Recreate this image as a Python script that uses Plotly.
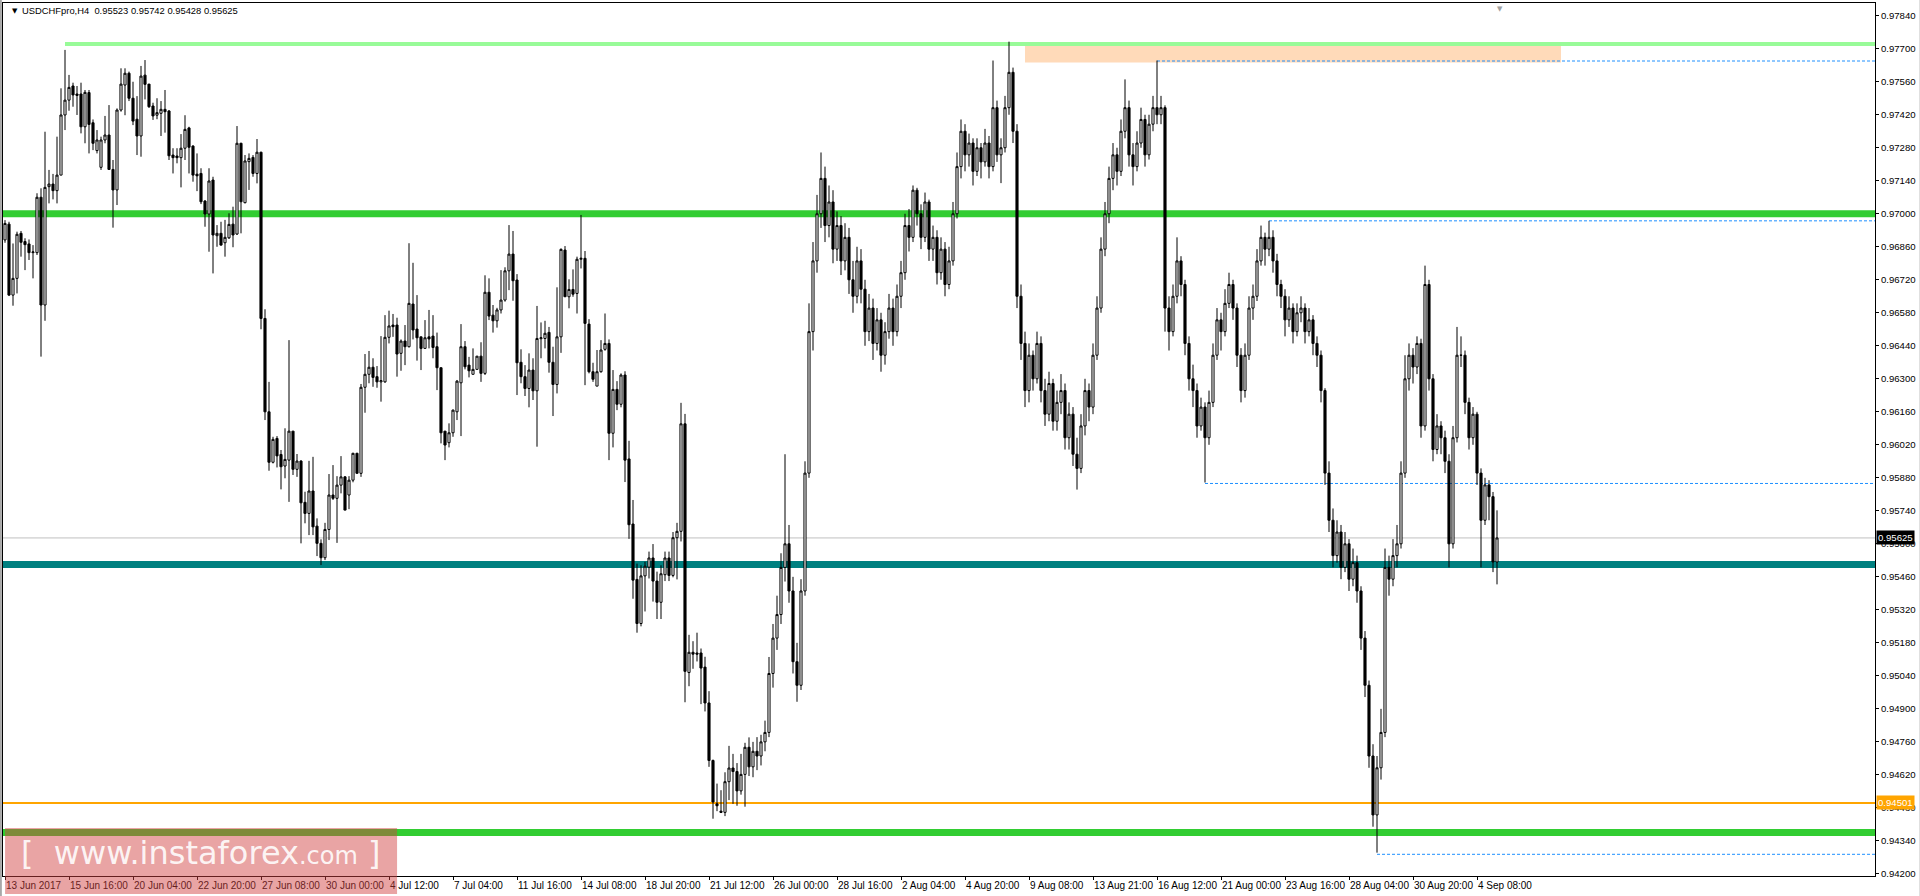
import plotly.graph_objects as go

# ---------------- data (USDCHF H4 candles) ----------------
opens = [0.96889,0.96956,0.96655,0.96726,0.96917,0.96882,0.96872,0.96835,0.96835,0.97070,
0.96613,0.97115,0.97126,0.97098,0.97164,0.97419,0.97482,0.97542,0.97508,0.97508,
0.97369,0.97514,0.97386,0.97268,0.97197,0.97313,0.97334,0.97188,0.97101,0.97440,
0.97546,0.97596,0.97490,0.97401,0.97330,0.97588,0.97550,0.97457,0.97418,0.97426,
0.97443,0.97436,0.97249,0.97245,0.97238,0.97278,0.97364,0.97287,0.97168,0.97171,
0.97054,0.96999,0.97143,0.96907,0.96917,0.96877,0.96898,0.96956,0.96914,0.97299,
0.97047,0.97221,0.97239,0.97171,0.97261,0.96556,0.96160,0.95946,0.96047,0.95979,
0.95930,0.95955,0.96078,0.95916,0.95951,0.95776,0.95729,0.95824,0.95675,0.95602,
0.95541,0.95661,0.95807,0.95793,0.95849,0.95884,0.95807,0.95870,0.95984,0.95899,
0.96264,0.96319,0.96349,0.96309,0.96287,0.96287,0.96476,0.96528,0.96528,0.96408,
0.96460,0.96436,0.96617,0.96511,0.96478,0.96429,0.96478,0.96481,0.96436,0.96347,
0.96078,0.96029,0.96071,0.96160,0.96283,0.96436,0.96358,0.96319,0.96340,0.96396,
0.96323,0.96667,0.96570,0.96546,0.96592,0.96634,0.96758,0.96829,0.96719,0.96370,
0.96309,0.96259,0.96337,0.96249,0.96470,0.96471,0.96497,0.96370,0.96276,0.96478,
0.96846,0.96648,0.96679,0.96662,0.96807,0.96811,0.96532,0.96330,0.96269,0.96330,
0.96425,0.96450,0.96069,0.96255,0.96192,0.96316,0.95960,0.95684,0.95449,0.95262,
0.95464,0.95501,0.95540,0.95442,0.95352,0.95469,0.95540,0.95466,0.95626,0.95653,
0.96109,0.95054,0.95140,0.95137,0.95137,0.95077,0.94925,0.94681,0.94497,0.94466,
0.94461,0.94591,0.94649,0.94634,0.94552,0.94622,0.94737,
0.94654,0.94720,0.94700,0.94760,0.94800,0.95050,0.95200,0.95300,0.95500,0.95600,
0.95400,0.95100,0.95000,0.95400,0.95900,0.96500,0.96800,0.97000,0.97150,0.96950,
0.97050,0.96850,0.96950,0.96800,0.96900,0.96720,0.96650,0.96800,0.96680,0.96500,
0.96600,0.96450,0.96550,0.96400,0.96500,0.96600,0.96500,0.96650,0.96750,0.96950,
0.96900,0.97100,0.97000,0.96900,0.97050,0.96850,0.96900,0.96750,0.96850,0.96700,
0.96800,0.97000,0.97200,0.97350,0.97250,0.97300,0.97180,0.97280,0.97220,0.97300,
0.97200,0.97450,0.97250,0.97280,0.97450,0.97600,0.97350,0.96650,0.96450,0.96250,
0.96400,0.96300,0.96450,0.96250,0.96150,0.96280,0.96120,0.96200,0.96250,0.96050,
0.96150,0.95980,0.95920,0.96100,0.96250,0.96180,0.96400,0.96600,0.96850,0.97000,
0.97150,0.97250,0.97180,0.97350,0.97450,0.97250,0.97200,0.97300,0.97400,0.97250,
0.97380,0.97450,0.97420,0.97450,0.96600,0.96500,0.96650,0.96800,0.96700,0.96450,
0.96300,0.96250,0.96100,0.96180,0.96050,0.96200,0.96400,0.96550,0.96500,0.96620,
0.96700,0.96600,0.96400,0.96250,0.96400,0.96600,0.96650,0.96800,0.96900,0.96850,
0.96900,0.96800,0.96700,0.96650,0.96550,0.96600,0.96500,0.96580,0.96600,0.96500,
0.96550,0.96450,0.96400,0.96250,0.95900,0.95700,0.95550,0.95650,0.95500,0.95600,
0.95450,0.95520,0.95400,0.95200,0.95000,0.94700,0.94450,0.94650,0.94800,0.95500,
0.95450,0.95550,0.95600,0.95900,0.96300,0.96400,0.96350,0.96450,0.96100,0.96700,
0.96300,0.96000,0.96100,0.96050,0.95950,0.95600,0.96050,0.96400,0.96400,0.96200,
0.96050,0.96150,0.95900,0.95700,0.95850,0.95800,0.95523]
highs = [0.96973,0.96966,0.96874,0.96924,0.96927,0.96896,0.96891,0.96867,0.97087,0.97108,
0.97348,0.97186,0.97169,0.97327,0.97532,0.97695,0.97589,0.97556,0.97542,0.97556,
0.97525,0.97525,0.97400,0.97355,0.97327,0.97415,0.97461,0.97228,0.97447,0.97617,
0.97617,0.97603,0.97560,0.97499,0.97627,0.97652,0.97550,0.97471,0.97490,0.97478,
0.97525,0.97440,0.97278,0.97278,0.97338,0.97418,0.97369,0.97291,0.97256,0.97193,
0.97058,0.97193,0.97157,0.96952,0.96966,0.96974,0.97002,0.97030,0.97372,0.97301,
0.97249,0.97256,0.97249,0.97317,0.97263,0.96595,0.96287,0.96054,0.96057,0.95998,
0.96090,0.96464,0.96078,0.95981,0.95955,0.95821,0.95952,0.95969,0.95708,0.95619,
0.95689,0.95896,0.95934,0.95887,0.95972,0.95887,0.95887,0.95986,0.95986,0.96278,
0.96405,0.96418,0.96387,0.96354,0.96481,0.96570,0.96589,0.96575,0.96559,0.96467,
0.96528,0.96875,0.96792,0.96655,0.96478,0.96549,0.96592,0.96570,0.96496,0.96347,
0.96075,0.96111,0.96170,0.96295,0.96532,0.96460,0.96393,0.96429,0.96396,0.96455,
0.96739,0.96726,0.96613,0.96601,0.96761,0.96773,0.96952,0.96927,0.96744,0.96425,
0.96358,0.96408,0.96387,0.96609,0.96539,0.96546,0.96520,0.96436,0.96688,0.96853,
0.96863,0.96722,0.96764,0.96818,0.96995,0.96842,0.96553,0.96368,0.96422,0.96464,
0.96577,0.96467,0.96337,0.96290,0.96323,0.96332,0.96037,0.95786,0.95516,0.95509,
0.95524,0.95567,0.95599,0.95482,0.95509,0.95567,0.95567,0.95650,0.95689,0.96198,
0.96151,0.95214,0.95187,0.95223,0.95156,0.95121,0.94975,0.94685,0.94583,0.94555,
0.94631,0.94743,0.94709,0.94670,0.94709,0.94756,0.94779,
0.94760,0.94780,0.94790,0.94850,0.95120,0.95260,0.95380,0.95560,0.95980,0.95680,
0.95460,0.95180,0.95450,0.95950,0.96620,0.96880,0.97080,0.97260,0.97200,0.97120,
0.97100,0.97010,0.96990,0.96960,0.96940,0.96800,0.96860,0.96850,0.96720,0.96660,
0.96640,0.96600,0.96580,0.96540,0.96660,0.96640,0.96700,0.96800,0.97000,0.97020,
0.97120,0.97110,0.97040,0.97090,0.97060,0.96950,0.96930,0.96900,0.96880,0.96860,
0.97050,0.97260,0.97400,0.97380,0.97340,0.97320,0.97320,0.97300,0.97360,0.97330,
0.97650,0.97480,0.97320,0.97500,0.97730,0.97620,0.97380,0.96700,0.96500,0.96450,
0.96420,0.96500,0.96480,0.96300,0.96330,0.96300,0.96250,0.96320,0.96280,0.96200,
0.96180,0.96050,0.96150,0.96300,0.96280,0.96450,0.96650,0.96900,0.97050,0.97200,
0.97300,0.97280,0.97400,0.97570,0.97480,0.97300,0.97350,0.97450,0.97420,0.97420,
0.97500,0.97650,0.97500,0.97460,0.96650,0.96700,0.96900,0.96820,0.96720,0.96480,
0.96360,0.96280,0.96220,0.96200,0.96250,0.96450,0.96600,0.96580,0.96680,0.96750,
0.96720,0.96620,0.96430,0.96450,0.96650,0.96700,0.96850,0.96950,0.96920,0.96970,
0.96930,0.96830,0.96720,0.96680,0.96650,0.96620,0.96620,0.96650,0.96620,0.96600,
0.96570,0.96480,0.96420,0.96260,0.95950,0.95750,0.95700,0.95680,0.95650,0.95620,
0.95580,0.95550,0.95420,0.95230,0.95020,0.94750,0.94700,0.94900,0.95580,0.95550,
0.95620,0.95680,0.95950,0.96400,0.96450,0.96430,0.96480,0.96470,0.96780,0.96720,
0.96320,0.96150,0.96120,0.96080,0.95980,0.96100,0.96520,0.96480,0.96420,0.96220,
0.96180,0.96160,0.95920,0.95880,0.95870,0.95820,0.95742]
lows = [0.96877,0.96651,0.96610,0.96662,0.96818,0.96761,0.96804,0.96726,0.96825,0.96394,
0.96546,0.97044,0.97061,0.97044,0.97164,0.97355,0.97437,0.97454,0.97419,0.97341,
0.97299,0.97256,0.97270,0.97256,0.97186,0.97299,0.97186,0.96941,0.97037,0.97433,
0.97418,0.97478,0.97376,0.97249,0.97242,0.97485,0.97449,0.97398,0.97401,0.97330,
0.97344,0.97228,0.97171,0.97214,0.97112,0.97228,0.97171,0.97136,0.97096,0.97041,
0.96945,0.96839,0.96747,0.96860,0.96865,0.96818,0.96893,0.96858,0.96910,0.96917,
0.97044,0.97101,0.97157,0.97129,0.96510,0.96125,0.95910,0.95941,0.95924,0.95831,
0.95878,0.95778,0.95892,0.95884,0.95602,0.95687,0.95637,0.95637,0.95548,0.95510,
0.95531,0.95616,0.95786,0.95604,0.95814,0.95743,0.95747,0.95861,0.95899,0.95884,
0.96156,0.96281,0.96266,0.96262,0.96203,0.96283,0.96450,0.96478,0.96309,0.96334,
0.96358,0.96433,0.96467,0.96377,0.96337,0.96429,0.96429,0.96387,0.96252,0.96026,
0.95955,0.96009,0.96054,0.96125,0.96057,0.96340,0.96306,0.96319,0.96340,0.96287,
0.96316,0.96549,0.96496,0.96517,0.96577,0.96627,0.96676,0.96631,0.96231,0.96281,
0.96227,0.96179,0.96210,0.96012,0.96387,0.96429,0.96326,0.96142,0.96238,0.96410,
0.96648,0.96599,0.96648,0.96577,0.96768,0.96273,0.96323,0.96287,0.96269,0.96326,
0.96419,0.95955,0.96009,0.96167,0.96179,0.95862,0.95621,0.95367,0.95223,0.95250,
0.95313,0.95453,0.95355,0.95281,0.95281,0.95442,0.95442,0.95458,0.95449,0.95610,
0.94928,0.94996,0.95070,0.95101,0.94920,0.94889,0.94654,0.94434,0.94466,0.94458,
0.94445,0.94513,0.94497,0.94489,0.94536,0.94485,0.94615,
0.94610,0.94640,0.94660,0.94720,0.94780,0.94990,0.95150,0.95260,0.95440,0.95350,
0.95050,0.94930,0.94980,0.95380,0.95880,0.96420,0.96750,0.96940,0.96880,0.96900,
0.96790,0.96800,0.96740,0.96760,0.96660,0.96580,0.96620,0.96620,0.96440,0.96460,
0.96380,0.96420,0.96330,0.96360,0.96470,0.96440,0.96480,0.96600,0.96720,0.96840,
0.96880,0.96950,0.96850,0.96880,0.96800,0.96800,0.96700,0.96720,0.96650,0.96680,
0.96780,0.96980,0.97150,0.97180,0.97200,0.97120,0.97160,0.97150,0.97200,0.97150,
0.97180,0.97220,0.97130,0.97260,0.97420,0.97300,0.96600,0.96380,0.96180,0.96200,
0.96250,0.96280,0.96200,0.96100,0.96120,0.96080,0.96080,0.96150,0.96000,0.96000,
0.95930,0.95830,0.95900,0.96060,0.96120,0.96150,0.96380,0.96580,0.96820,0.96960,
0.97100,0.97120,0.97160,0.97320,0.97200,0.97120,0.97180,0.97280,0.97200,0.97230,
0.97350,0.97380,0.97380,0.96500,0.96420,0.96480,0.96620,0.96650,0.96400,0.96250,
0.96180,0.96050,0.96080,0.95860,0.96020,0.96180,0.96380,0.96420,0.96480,0.96600,
0.96550,0.96350,0.96200,0.96220,0.96380,0.96550,0.96630,0.96780,0.96780,0.96820,
0.96750,0.96650,0.96600,0.96480,0.96520,0.96450,0.96480,0.96540,0.96450,0.96480,
0.96400,0.96350,0.96200,0.95850,0.95650,0.95500,0.95520,0.95450,0.95480,0.95400,
0.95420,0.95350,0.95150,0.94950,0.94650,0.94400,0.94290,0.94600,0.94780,0.95380,
0.95420,0.95500,0.95580,0.95880,0.96250,0.96280,0.96320,0.96050,0.96080,0.96250,
0.95950,0.95980,0.95980,0.95900,0.95500,0.95580,0.96030,0.96350,0.96150,0.96000,
0.96020,0.95850,0.95500,0.95680,0.95700,0.95480,0.95428]
closes = [0.96959,0.96655,0.96726,0.96913,0.96879,0.96869,0.96835,0.96838,0.97070,0.96613,
0.97112,0.97126,0.97098,0.97164,0.97419,0.97482,0.97536,0.97504,0.97502,0.97369,
0.97515,0.97379,0.97299,0.97313,0.97313,0.97334,0.97188,0.97101,0.97440,0.97550,
0.97596,0.97490,0.97393,0.97330,0.97584,0.97549,0.97454,0.97415,0.97429,0.97443,
0.97433,0.97246,0.97238,0.97238,0.97278,0.97358,0.97282,0.97164,0.97161,0.97051,
0.96999,0.97139,0.96910,0.96917,0.96867,0.96900,0.96955,0.96910,0.97299,0.97051,
0.97224,0.97235,0.97171,0.97261,0.96556,0.96160,0.95946,0.96043,0.95973,0.95927,
0.95958,0.96078,0.95916,0.95951,0.95774,0.95729,0.95824,0.95672,0.95602,0.95541,
0.95661,0.95807,0.95793,0.95849,0.95884,0.95743,0.95870,0.95984,0.95899,0.96264,
0.96319,0.96349,0.96306,0.96287,0.96292,0.96476,0.96524,0.96521,0.96405,0.96460,
0.96436,0.96620,0.96507,0.96474,0.96429,0.96474,0.96469,0.96433,0.96347,0.96071,
0.96019,0.96071,0.96167,0.96290,0.96436,0.96351,0.96334,0.96340,0.96396,0.96323,
0.96667,0.96566,0.96546,0.96592,0.96634,0.96758,0.96829,0.96716,0.96368,0.96309,
0.96259,0.96337,0.96249,0.96471,0.96474,0.96493,0.96370,0.96276,0.96478,0.96849,
0.96648,0.96679,0.96659,0.96807,0.96811,0.96535,0.96330,0.96298,0.96330,0.96422,
0.96450,0.96069,0.96255,0.96192,0.96316,0.95955,0.95681,0.95446,0.95262,0.95464,
0.95505,0.95540,0.95442,0.95352,0.95473,0.95540,0.95466,0.95626,0.95653,0.96109,
0.95059,0.95140,0.95132,0.95132,0.95073,0.94925,0.94681,0.94505,0.94489,0.94461,
0.94591,0.94649,0.94634,0.94552,0.94622,0.94737,0.94654,
0.94720,0.94700,0.94760,0.94800,0.95050,0.95200,0.95300,0.95500,0.95600,0.95400,
0.95100,0.95000,0.95400,0.95900,0.96500,0.96800,0.97000,0.97150,0.96950,0.97050,
0.96850,0.96950,0.96800,0.96900,0.96720,0.96650,0.96800,0.96680,0.96500,0.96600,
0.96450,0.96550,0.96400,0.96500,0.96600,0.96500,0.96650,0.96750,0.96950,0.96900,
0.97100,0.97000,0.96900,0.97050,0.96850,0.96900,0.96750,0.96850,0.96700,0.96800,
0.97000,0.97200,0.97350,0.97250,0.97300,0.97180,0.97280,0.97220,0.97300,0.97200,
0.97450,0.97250,0.97280,0.97450,0.97600,0.97350,0.96650,0.96450,0.96250,0.96400,
0.96300,0.96450,0.96250,0.96150,0.96280,0.96120,0.96200,0.96250,0.96050,0.96150,
0.95980,0.95920,0.96100,0.96250,0.96180,0.96400,0.96600,0.96850,0.97000,0.97150,
0.97250,0.97180,0.97350,0.97450,0.97250,0.97200,0.97300,0.97400,0.97250,0.97380,
0.97450,0.97420,0.97450,0.96600,0.96500,0.96650,0.96800,0.96700,0.96450,0.96300,
0.96250,0.96100,0.96180,0.96050,0.96200,0.96400,0.96550,0.96500,0.96620,0.96700,
0.96600,0.96400,0.96250,0.96400,0.96600,0.96650,0.96800,0.96900,0.96850,0.96900,
0.96800,0.96700,0.96650,0.96550,0.96600,0.96500,0.96580,0.96600,0.96500,0.96550,
0.96450,0.96400,0.96250,0.95900,0.95700,0.95550,0.95650,0.95500,0.95600,0.95450,
0.95520,0.95400,0.95200,0.95000,0.94700,0.94450,0.94650,0.94800,0.95500,0.95450,
0.95550,0.95600,0.95900,0.96300,0.96400,0.96350,0.96450,0.96100,0.96700,0.96300,
0.96000,0.96100,0.96050,0.95950,0.95600,0.96050,0.96400,0.96400,0.96200,0.96050,
0.96150,0.95900,0.95700,0.95850,0.95800,0.95523,0.95625]

x_labels = ["13 Jun 2017","15 Jun 16:00","20 Jun 04:00","22 Jun 20:00","27 Jun 08:00",
            "30 Jun 00:00","4 Jul 12:00","7 Jul 04:00","11 Jul 16:00","14 Jul 08:00",
            "18 Jul 20:00","21 Jul 12:00","26 Jul 00:00","28 Jul 16:00","2 Aug 04:00",
            "4 Aug 20:00","9 Aug 08:00","13 Aug 21:00","16 Aug 12:00","21 Aug 00:00",
            "23 Aug 16:00","28 Aug 04:00","30 Aug 20:00","4 Sep 08:00"]
bars_per_label = 16
y_ticks = [0.94200,0.94340,0.94480,0.94620,0.94760,0.94900,0.95040,0.95180,0.95320,
           0.95460,0.95600,0.95740,0.95880,0.96020,0.96160,0.96300,0.96440,0.96580,
           0.96720,0.96860,0.97000,0.97140,0.97280,0.97420,0.97560,0.97700,0.97840]

title_text = "USDCHFpro,H4  0.95523 0.95742 0.95428 0.95625"
current_price = 0.95625
level_top = 0.97720        # light green line
level_top_start = 15
level_green_hi = 0.97000
level_teal = 0.95512
level_orange = 0.94501
level_green_lo = 0.94376
dashed_levels = [0.97648, 0.96970, 0.95856, 0.94283, 0.95501]
dashed_starts = [288, 316, 300, 343, 79]
zone_low, zone_high = 0.97642, 0.97720
zone_start, zone_end = 255, 389

x_min, x_max = -0.5, 467.5
y_min, y_max = 0.94191, 0.97894

# ---------------- figure ----------------
n = len(closes)
fig = go.Figure()
fig.add_trace(go.Candlestick(
    x=list(range(n)), open=opens, high=highs, low=lows, close=closes,
    increasing=dict(line=dict(color="black", width=1), fillcolor="white"),
    decreasing=dict(line=dict(color="black", width=1), fillcolor="black"),
    whiskerwidth=0, showlegend=False, hoverinfo="skip"))

def hline(y, x0, color, width, dash="solid", layer="below"):
    fig.add_shape(type="line", xref="x", yref="y", x0=x0, x1=x_max, y0=y, y1=y,
                  line=dict(color=color, width=width, dash=dash), layer=layer)

fig.add_shape(type="rect", xref="x", yref="y", x0=zone_start, x1=zone_end,
              y0=zone_low, y1=zone_high, fillcolor="#FFDAB9", line=dict(width=0), layer="below")
hline(level_top, level_top_start, "#98FB98", 4)
hline(level_green_hi, x_min, "#32CD32", 7)
hline(current_price, x_min, "#C0C0C0", 1)
for lv, st in zip(dashed_levels, dashed_starts):
    hline(lv, st, "#1E90FF", 1, dash="3px,2px")
hline(level_teal, x_min, "#008080", 7)
hline(level_orange, x_min, "#FFA500", 2)
hline(level_green_lo, x_min, "#32CD32", 7)

# window edges (gray frame strips)
fig.add_shape(type="rect", xref="paper", yref="paper", x0=-0.0016, x1=-0.0006, y0=-0.03, y1=1.01,
              fillcolor="#A8A8A8", line=dict(width=0), layer="above")
fig.add_shape(type="rect", xref="paper", yref="paper", x0=1.0235, x1=1.0260, y0=-0.03, y1=1.01,
              fillcolor="#E0E0E0", line=dict(width=0), layer="above")

# price labels on the axis
fig.add_annotation(xref="paper", yref="y", x=1.0006, y=current_price, xanchor="left",
                   yanchor="middle", text="0.95625", showarrow=False, bgcolor="black",
                   font=dict(family="Liberation Sans", size=9.6, color="white"), borderpad=1)
fig.add_annotation(xref="paper", yref="y", x=1.0006, y=level_orange, xanchor="left",
                   yanchor="middle", text="0.94501", showarrow=False, bgcolor="#FFA500",
                   font=dict(family="Liberation Sans", size=9.6, color="white"), borderpad=1)

# title
fig.add_annotation(xref="paper", yref="paper", x=0.0035, y=0.991, xanchor="left", yanchor="middle",
                   text="\u25BC", showarrow=False, font=dict(family="DejaVu Sans", size=7, color="black"))
fig.add_annotation(xref="paper", yref="paper", x=0.0093, y=0.991, xanchor="left", yanchor="middle",
                   text=title_text, showarrow=False,
                   font=dict(family="Liberation Sans", size=9.4, color="black"))
fig.add_annotation(xref="paper", yref="paper", x=0.7995, y=1.0, xanchor="center", yanchor="top",
                   text="\u25BC", showarrow=False, font=dict(family="DejaVu Sans", size=7, color="#A0A0A0"))

# watermark
fig.add_shape(type="rect", xref="paper", yref="paper", x0=0.0011, x1=0.2105, y0=-0.0206, y1=0.055,
              fillcolor="rgba(210,65,65,0.48)", line=dict(width=0), layer="above")
fig.add_annotation(xref="paper", yref="paper", x=0.0085, y=0.026, xanchor="left", yanchor="middle",
                   text="[  www.instaforex<span style='font-size:24px'>.com</span> ]",
                   showarrow=False, font=dict(family="DejaVu Sans", size=32, color="rgba(255,255,255,0.9)"))

fig.update_layout(
    width=1920, height=896, margin=dict(l=3, r=45, t=3, b=20, autoexpand=False),
    paper_bgcolor="white", plot_bgcolor="white", boxgap=0.25,
    xaxis=dict(range=[x_min, x_max], rangeslider=dict(visible=False), automargin=False,
               tickvals=[k * bars_per_label for k in range(len(x_labels))], ticktext=x_labels,
               tickangle=0, ticks="outside", ticklen=3, tickcolor="black",
               ticklabelposition="outside right",
               showgrid=False, zeroline=False, showline=True, linecolor="black", linewidth=1, mirror=True,
               tickfont=dict(family="Liberation Sans", size=10, color="black")),
    yaxis=dict(range=[y_min, y_max], side="right", tickvals=y_ticks, automargin=False,
               ticktext=["%.5f" % v for v in y_ticks],
               ticks="outside", ticklen=3, tickcolor="black",
               showgrid=False, zeroline=False, showline=True, linecolor="black", linewidth=1, mirror=True,
               tickfont=dict(family="Liberation Sans", size=9.6, color="black")),
)

fig.write_html("out.html", config={"displayModeBar": False},
               post_script="document.body.style.margin='0';document.body.style.overflow='hidden';")
